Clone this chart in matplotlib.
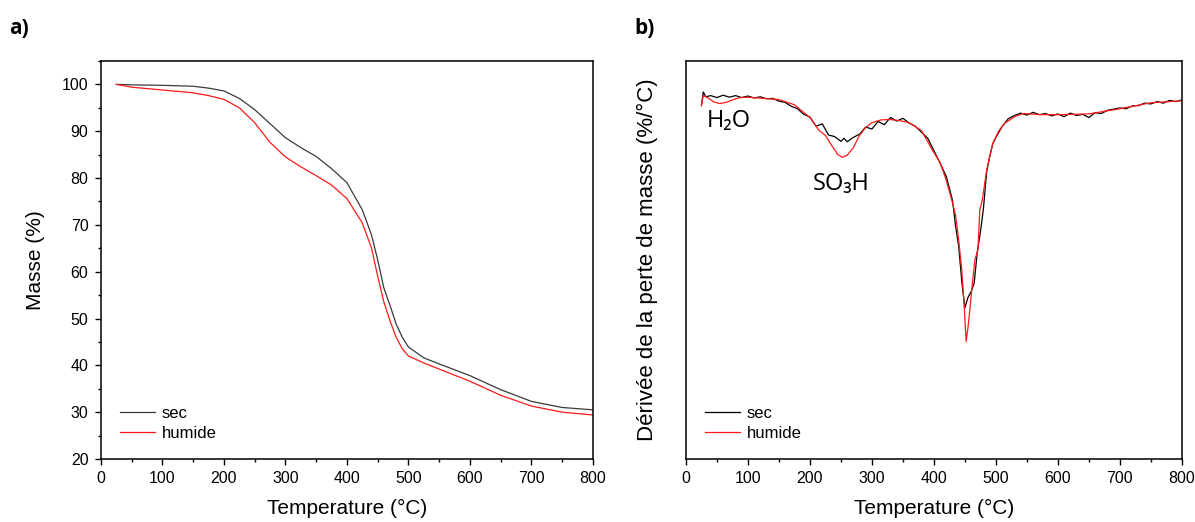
"""
plot.py: TGA / DTG curves, sec vs humide.
"""

import matplotlib.pyplot as plt
from matplotlib.ticker import MultipleLocator

plt.rcParams['font.family'] = ['Liberation Sans', 'DejaVu Sans']

# a) masse (%) vs temperature
temp_mass = [25, 50, 100, 150, 175, 200, 225, 250, 275, 300, 325, 350, 375, 400,
             425, 440, 450, 460, 470, 480, 490, 500, 525, 550, 600, 650, 700, 750, 800]
mass_sec = [100, 99.9, 99.8, 99.6, 99.2, 98.6, 97.0, 94.6, 91.6, 88.6, 86.5, 84.6, 82.0, 79.0,
            73.2, 67.8, 62.5, 56.5, 52.8, 48.8, 46.0, 43.9, 41.6, 40.3, 37.8, 34.8, 32.3, 31.0, 30.5]
mass_humide = [100, 99.4, 98.8, 98.2, 97.6, 96.8, 95.0, 91.8, 87.6, 84.5, 82.4, 80.5, 78.5, 75.6,
               70.4, 65.0, 59.0, 53.5, 49.5, 46.0, 43.5, 42.0, 40.5, 39.2, 36.6, 33.6, 31.3, 30.0, 29.4]

# b) derivee (unites arbitraires) vs temperature
temp_dtg_sec = [25, 28, 32, 40, 50, 60, 70, 80, 90, 100, 110, 120, 130, 140, 150, 160, 170, 180,
                190, 200, 210, 220, 230, 240, 250, 255, 260, 270, 280, 290, 300, 310, 320, 330,
                340, 350, 360, 370, 380, 390, 400, 410, 420, 430, 435, 440, 445, 450, 455, 460,
                465, 470, 475, 480, 485, 490, 495, 500, 510, 520, 530, 540, 550, 560, 570, 580,
                590, 600, 610, 620, 630, 640, 650, 660, 670, 680, 690, 700, 710, 720, 730, 740,
                750, 760, 770, 780, 790, 800]
dtg_sec = [88.8, 92.2, 91.0, 91.3, 90.8, 91.4, 90.9, 91.3, 90.8, 91.2, 90.7, 91.0, 90.5, 90.6,
           89.9, 89.6, 88.6, 88.0, 86.6, 85.9, 83.6, 84.2, 81.4, 81.0, 79.8, 80.6, 79.7, 80.8,
           81.6, 83.4, 82.9, 84.8, 84.0, 85.8, 84.9, 85.6, 84.4, 83.6, 82.1, 80.6, 77.5, 74.3,
           71.0, 65.0, 58.5, 53.5, 44.5, 38.0, 40.6, 42.0, 44.2, 52.0, 57.0, 63.0, 72.0, 76.0,
           79.2, 80.8, 83.5, 85.5, 86.3, 86.9, 86.4, 87.1, 86.5, 86.8, 86.2, 86.7, 86.0, 86.9,
           86.3, 86.6, 85.8, 87.0, 86.8, 87.6, 87.9, 88.2, 88.0, 88.7, 88.8, 89.4, 89.2, 89.8,
           89.4, 90.1, 89.8, 90.2]
temp_dtg_humide = [25, 28, 35, 45, 55, 65, 75, 87, 100, 125, 150, 175, 200, 215, 225, 235, 245,
                   252, 260, 270, 280, 290, 300, 315, 329, 345, 360, 380, 398, 410, 420, 428, 435,
                   440, 445, 449, 452, 455, 458, 462, 466, 471, 474, 478, 485, 495, 505, 514, 530,
                   544, 575, 600, 650, 700, 750, 800]
dtg_humide = [88.8, 91.3, 90.8, 89.7, 89.3, 89.6, 90.2, 90.8, 90.9, 90.6, 90.3, 89.0, 85.8, 82.5,
              81.3, 78.8, 76.5, 75.8, 76.3, 78.2, 81.3, 83.3, 84.5, 85.2, 85.3, 85.0, 84.5, 82.5,
              77.5, 74.5, 70.0, 65.5, 61.3, 55.0, 47.5, 38.0, 29.5, 33.0, 37.5, 44.0, 50.0, 52.5,
              62.5, 65.0, 72.5, 79.3, 82.5, 84.3, 86.0, 86.8, 86.5, 86.5, 86.7, 88.0, 89.5, 90.0]

col_sec = '#3a3a3a'
col_humide = '#ff1a1a'

fig = plt.figure(figsize=(11.95, 5.22), dpi=100)
ax1 = fig.add_axes([0.0845, 0.1207, 0.4117, 0.7625])
ax2 = fig.add_axes([0.574, 0.1207, 0.415, 0.7625])

ax1.plot(temp_mass, mass_sec, color=col_sec, lw=0.9, label='sec')
ax1.plot(temp_mass, mass_humide, color=col_humide, lw=0.9, label='humide')
ax1.set_xlim(0, 800)
ax1.set_ylim(20, 105)
ax1.xaxis.set_major_locator(MultipleLocator(100))
ax1.xaxis.set_minor_locator(MultipleLocator(50))
ax1.yaxis.set_major_locator(MultipleLocator(10))
ax1.yaxis.set_minor_locator(MultipleLocator(5))
ax1.set_ylabel('Masse (%)', fontsize=15, labelpad=12)

ax2.plot(temp_dtg_sec, dtg_sec, color='black', lw=0.9, label='sec')
ax2.plot(temp_dtg_humide, dtg_humide, color=col_humide, lw=0.9, label='humide')
ax2.set_xlim(0, 800)
ax2.set_ylim(0, 100)
ax2.xaxis.set_major_locator(MultipleLocator(100))
ax2.xaxis.set_minor_locator(MultipleLocator(50))
ax2.set_yticks([])
ax2.set_ylabel('Dérivée de la perte de masse (%/°C)', fontsize=16, labelpad=20)
ax2.text(34, 83.5, 'H₂O', fontsize=17, family=['Open Sans', 'DejaVu Sans'])
ax2.text(204, 67.5, 'SO₃H', fontsize=17, family=['Open Sans', 'DejaVu Sans'])

for ax in (ax1, ax2):
    ax.set_xlabel('Temperature (°C)', fontsize=15, labelpad=9)
    ax.tick_params(which='major', direction='out', length=4, width=1, labelsize=11.5,
                   pad=5, top=False, right=False)
    ax.tick_params(which='minor', direction='out', length=2.5, width=1, top=False, right=False)
    for s in ax.spines.values():
        s.set_linewidth(1.1)
    ax.legend(loc='lower left', frameon=False, fontsize=12, handlelength=2.1,
              handletextpad=0.4, borderaxespad=0.0, labelspacing=0.3,
              bbox_to_anchor=(0.025, 0.028))

fig.text(0.008, 0.935, 'a)', fontsize=15, fontweight='bold', family=['Open Sans', 'DejaVu Sans'])
fig.text(0.531, 0.935, 'b)', fontsize=15, fontweight='bold', family=['Open Sans', 'DejaVu Sans'])

fig.savefig('out.png', dpi=100)
